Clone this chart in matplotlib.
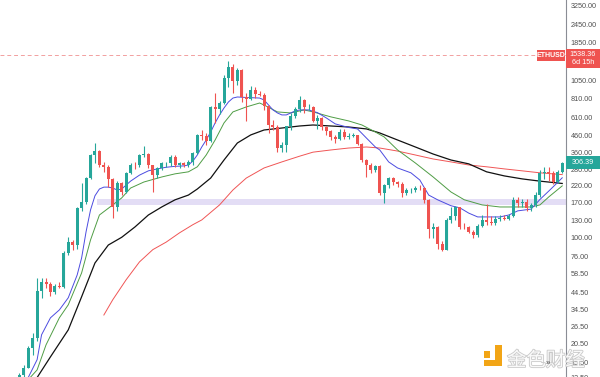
import matplotlib
matplotlib.use("Agg")
import matplotlib.pyplot as plt
from matplotlib.patches import Rectangle
from matplotlib.transforms import IdentityTransform
import matplotlib.patheffects as pe

plt.rcParams["font.family"] = ["Liberation Sans", "DejaVu Sans"]

# ── weekly ETHUSD candles (one per week, oldest first) ──────────────────────
opens = [11.5, 12.8, 14.4, 19.3, 22.5, 45.5, 52.0, 50.0, 44.5, 49.0,
         48.0, 80.0, 94.0, 90.0, 157, 172, 245, 345, 365, 300,
         290, 240, 160, 226, 198, 265, 300, 296, 345, 350,
         296, 258, 284, 305, 308, 336, 298, 306, 297, 312,
         355, 465, 458, 428, 705, 690, 755, 1100, 1290, 1040,
         1240, 820, 800, 920, 865, 855, 725, 545, 525, 385,
         400, 530, 620, 685, 790, 705, 712, 578, 600, 525,
         495, 455, 440, 485, 450, 458, 465, 410, 320, 300,
         275, 295, 197, 220, 245, 232, 225, 195, 204, 206,
         212, 211, 176, 114, 117, 92, 84, 130, 138, 158,
         118, 117, 110, 104, 120, 131, 127, 125, 132, 135,
         133, 139, 176, 170, 172, 156, 163, 190, 264, 270,
         265, 232, 268]
highs = [13.2, 15.0, 20.0, 24.0, 55.0, 55.0, 55.0, 51.5, 50.0, 51.5,
         82.0, 102, 97.0, 160, 228, 250, 350, 415, 375, 312,
         300, 245, 235, 232, 270, 305, 310, 350, 395, 355,
         300, 290, 310, 312, 345, 345, 310, 310, 320, 360,
         475, 500, 480, 725, 870, 780, 1150, 1420, 1350, 1280,
         1250, 880, 975, 960, 900, 870, 730, 580, 540, 420,
         535, 645, 710, 830, 800, 740, 720, 625, 610, 535,
         500, 470, 510, 510, 480, 480, 470, 415, 325, 305,
         300, 300, 225, 250, 250, 235, 232, 210, 210, 218,
         222, 215, 178, 125, 120, 95, 135, 160, 162, 160,
         125, 120, 112, 124, 140, 165, 138, 138, 140, 140,
         143, 185, 185, 178, 178, 168, 200, 275, 290, 290,
         272, 275, 312]
lows = [11.3, 12.5, 14.2, 17.5, 21.5, 41.0, 47.0, 42.0, 43.0, 47.0,
        47.0, 78.0, 84.0, 85.0, 150, 165, 240, 305, 290, 270,
        215, 135, 150, 190, 195, 260, 280, 290, 335, 285,
        200, 245, 275, 290, 295, 290, 285, 290, 290, 300,
        350, 430, 400, 420, 560, 640, 740, 960, 870, 980,
        760, 575, 790, 810, 835, 680, 480, 500, 360, 360,
        360, 500, 600, 655, 650, 680, 570, 510, 500, 470,
        430, 415, 430, 440, 440, 450, 400, 310, 250, 265,
        270, 190, 168, 210, 220, 215, 185, 190, 196, 198,
        205, 170, 100, 100, 85, 82, 83, 125, 130, 115,
        114, 108, 100, 102, 117, 122, 122, 122, 128, 130,
        130, 137, 160, 160, 150, 150, 160, 185, 240, 235,
        225, 228, 265]
closes = [12.8, 14.4, 19.3, 22.5, 45.5, 52.0, 50.0, 44.5, 49.0, 48.0,
          80.0, 94.0, 90.0, 157, 172, 245, 345, 365, 300, 290,
          240, 160, 226, 198, 265, 300, 296, 345, 350, 296,
          258, 284, 305, 308, 336, 298, 306, 297, 312, 355,
          465, 458, 428, 705, 690, 755, 1100, 1290, 1040, 1240,
          820, 800, 920, 865, 855, 725, 545, 525, 385, 400,
          530, 620, 685, 790, 705, 712, 578, 600, 525, 495,
          455, 440, 485, 450, 458, 465, 410, 320, 300, 275,
          295, 197, 220, 245, 232, 225, 195, 204, 206, 212,
          211, 176, 114, 117, 92, 84, 130, 138, 158, 118,
          117, 110, 104, 120, 131, 127, 125, 132, 135, 133,
          139, 176, 170, 172, 156, 163, 190, 264, 270, 265,
          232, 268, 306.39]

# ── moving averages (week index, price) ─────────────────────────────────────
blue_idx = [1, 2, 4, 5, 7, 9, 11, 13, 14, 15, 16, 17, 18, 19, 20, 21, 22, 23,
            25, 27, 29, 31, 33, 35, 37, 38, 39, 40, 41, 42, 43, 44, 45, 46,
            47, 48, 49, 51, 54, 55, 56, 57, 58, 59, 60, 61, 62, 63, 65, 67,
            69, 71, 74, 76, 78, 80, 81, 83, 85, 88, 90, 92, 94, 97, 99, 101,
            103, 106, 108, 110, 112, 115, 117, 119, 121, 122]
blue_val = [12.0, 12.4, 16.2, 23.5, 30.3, 34.1, 40.9, 57.5, 74.2, 109.7, 152,
            188, 208, 214, 214, 211, 205, 208, 234, 256, 273, 281, 288, 292,
            294, 298, 316, 346, 390, 433, 488, 559, 630, 699, 765, 811, 824,
            818, 811, 788, 731, 679, 649, 630, 630, 649, 669, 679, 679, 652,
            602, 551, 522, 511, 446, 390, 373, 312, 285, 265, 238, 190, 177,
            162, 157, 145, 137, 137, 137, 141, 150, 154, 178, 202, 230, 246]

green_idx = [2, 4, 6, 9, 11, 14, 16, 18, 21, 23, 25, 28, 32, 35, 38, 40, 42,
             44, 46, 48, 51, 54, 55, 58, 61, 64, 66, 70, 74, 77, 80, 82, 85,
             89, 93, 97, 100, 104, 108, 112, 115, 117, 119, 122]
green_val = [12.0, 13.9, 20.2, 30.3, 36.8, 59.3, 97, 141, 164, 182, 211, 231,
             249, 261, 269, 290, 346, 433, 559, 659, 710, 753, 731, 659, 649,
             679, 659, 612, 576, 542, 488, 453, 373, 307, 249, 199, 177, 164,
             159, 159, 159, 164, 185, 218]

black_idx = [3, 4, 7, 11, 14, 17, 20, 23, 26, 29, 32, 35, 38, 40, 43, 46, 49,
             52, 55, 59, 63, 66, 70, 74, 78, 81, 85, 89, 93, 97, 101, 105, 109,
             113, 117, 122]
black_val = [11.4, 12.4, 16.9, 25.3, 41.5, 68.8, 90, 101, 118, 141, 159, 177,
             190, 208, 245, 321, 414, 467, 503, 518, 534, 542, 534, 526, 511,
             481, 433, 390, 351, 321, 303, 269, 253, 242, 234, 226]

red_idx = [19, 21, 24, 27, 30, 33, 36, 39, 41, 45, 48, 51, 55, 59, 63, 66,
           70, 74, 78, 81, 85, 89, 93, 97, 101, 105, 109, 113, 117, 122]
red_val = [31.6, 39.7, 53.5, 69.9, 84, 94, 108, 122, 131, 164, 205, 245, 285,
           312, 340, 361, 373, 384, 390, 384, 367, 346, 326, 312, 298, 290,
           281, 273, 265, 258]

# support zone, alert level, axis ticks
zone_start = 17.5
zone_low, zone_high = 164, 180
alert_price = 1538.36
last_price = closes[-1]
yticks = [3250, 2450, 1850, 1050, 810, 610, 460, 360, 280, 220, 170, 130,
          100, 76, 58.5, 44.5, 34.5, 26.5, 20.5, 15.5, 12.5]

UP, DOWN = "#26a69a", "#ef5350"

fig = plt.figure(figsize=(6, 3.77), dpi=100)
ax = fig.add_axes([0, 0, 566 / 600, 1])
ax.set_yscale("log")
ax.set_ylim(12.55, 3515)
ax.set_xlim(-4.34, 122.85)

# zone + alert line
ax.fill_between([zone_start, 130], zone_low, zone_high, color="#e3ddf5", lw=0, zorder=1)
ax.axhline(alert_price, color="#f2a0a0", lw=0.7, ls=(0, (4, 3)), zorder=1)

# moving averages
ax.plot(red_idx, red_val, color="#f05555", lw=0.7, zorder=2)
ax.plot(black_idx, black_val, color="#111111", lw=0.9, zorder=2)
ax.plot(green_idx, green_val, color="#4f9d45", lw=0.7, zorder=2)
ax.plot(blue_idx, blue_val, color="#4b4be0", lw=0.7, zorder=2)

# candles
idx = list(range(len(closes)))
cols = [UP if c >= o else DOWN for o, c in zip(opens, closes)]
ax.vlines(idx, lows, highs, colors=cols, lw=0.8, zorder=3)
bottoms = [min(o, c) for o, c in zip(opens, closes)]
heights = [max(abs(c - o), 0.004 * c) for o, c in zip(opens, closes)]
ax.bar(idx, heights, bottom=bottoms, width=0.68, color=cols, lw=0, zorder=4)

# axis styling
for s in ["top", "left", "bottom"]:
    ax.spines[s].set_visible(False)
ax.spines["right"].set_color("#8a8d95")
ax.spines["right"].set_linewidth(0.8)
ax.xaxis.set_visible(False)
ax.yaxis.tick_right()
ax.minorticks_off()
ax.set_yticks(yticks)
ax.set_yticklabels([f"{t:.2f}" for t in yticks])
ax.tick_params(axis="y", length=0, pad=3.4, labelsize=5.2, labelcolor="#505050")

# price labels on the scale
def ydisp(price):
    return ax.transData.transform((0, price))[1]

ident = IdentityTransform()
ya = ydisp(alert_price)
fig.add_artist(Rectangle((566, ya - 13), 34, 19, transform=ident, color=DOWN, lw=0, zorder=10))
fig.text(583, ya + 0.5, f"{alert_price:.2f}", transform=ident, color="white",
         fontsize=5.2, ha="center", va="center", zorder=11)
fig.text(583, ya - 7.5, "6d 15h", transform=ident, color="white",
         fontsize=5.2, ha="center", va="center", zorder=11)
fig.add_artist(Rectangle((537, ya - 5.5), 28, 11, transform=ident, color=DOWN, lw=0, zorder=10))
fig.text(551, ya + 0.2, "ETHUSD", transform=ident, color="white",
         fontsize=5, ha="center", va="center", zorder=11, fontweight="bold")

yl = ydisp(last_price)
fig.add_artist(Rectangle((566, yl - 6), 34, 13, transform=ident, color=UP, lw=0, zorder=10))
fig.text(583, yl + 0.5, f"{last_price:.2f}", transform=ident, color="white",
         fontsize=5.2, ha="center", va="center", zorder=11)

# watermark
ylogo = 377 - 366
fig.add_artist(Rectangle((484, 377 - 358), 6, 7, transform=ident, color="#f2a516", lw=0, zorder=9))
fig.add_artist(Rectangle((495, ylogo), 7, 21, transform=ident, color="#f2a516", lw=0, zorder=9))
fig.add_artist(Rectangle((484, ylogo), 18, 6, transform=ident, color="#f2a516", lw=0, zorder=9))
fig.text(507, 377 - 366, "金色财经", transform=ident, fontsize=14,
         family=["Noto Sans CJK SC", "DejaVu Sans"], color="white", alpha=0.9,
         path_effects=[pe.withStroke(linewidth=1.2, foreground="#c4c4c4")], zorder=9)
fig.text(548, 377 - 363, "»", transform=ident, fontsize=6, color="#444444",
         ha="center", va="center", zorder=12)

fig.savefig("out.png", dpi=100)
